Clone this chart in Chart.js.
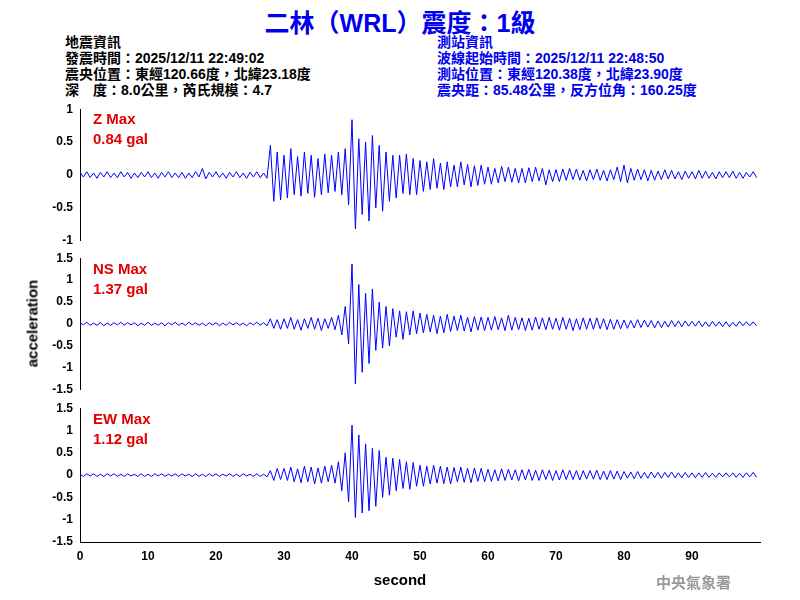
<!DOCTYPE html>
<html><head><meta charset="utf-8">
<script src="https://cdn.jsdelivr.net/npm/chart.js@4/dist/chart.umd.min.js"></script>
<style>
body{margin:0;width:800px;height:600px;background:#fff;position:relative;overflow:hidden;font-family:"Liberation Sans",Arial,sans-serif}
.t{position:absolute;white-space:nowrap}
.cjk{font-family:"Liberation Sans","Noto Sans CJK TC",sans-serif}
canvas{position:absolute;left:0}
</style></head><body>
<div class="t cjk" style="left:0;width:800px;text-align:center;top:3px;font-size:25px;font-weight:bold;color:#0000ee">二林（WRL）震度：1級</div>
<div class="t cjk" style="left:65px;top:34px;font-size:14px;line-height:16px;color:#000;font-weight:bold">地震資訊<br>發震時間：2025/12/11 22:49:02<br>震央位置：東經120.66度，北緯23.18度<br>深　度：8.0公里，芮氏規模：4.7</div>
<div class="t cjk" style="left:437px;top:34px;font-size:14px;line-height:16px;color:#0000ee;font-weight:bold">測站資訊<br>波線起始時間：2025/12/11 22:48:50<br>測站位置：東經120.38度，北緯23.90度<br>震央距：85.48公里，反方位角：160.25度</div>
<canvas id="c1" style="top:100px" width="800" height="150"></canvas>
<canvas id="c2" style="top:249px" width="800" height="150"></canvas>
<canvas id="c3" style="top:399px" width="800" height="200"></canvas>
<div class="t" style="left:93px;top:109px;font-size:15px;line-height:20px;color:#e00000;font-weight:bold">Z Max<br>0.84 gal</div>
<div class="t" style="left:93px;top:259px;font-size:15px;line-height:20px;color:#e00000;font-weight:bold">NS Max<br>1.37 gal</div>
<div class="t" style="left:93px;top:409px;font-size:15px;line-height:20px;color:#e00000;font-weight:bold">EW Max<br>1.12 gal</div>
<div class="t" style="left:-18px;top:315px;font-size:15px;font-weight:bold;transform:rotate(-90deg);width:100px;text-align:center">acceleration</div>
<div class="t" style="left:350px;top:571px;width:100px;text-align:center;font-size:15px;font-weight:bold">second</div>
<div class="t cjk" style="left:656px;top:571px;font-size:15px;font-weight:bold;color:#999">中央氣象署</div>
<script>
const zData=[0.04,-0.03,0.05,-0.04,0.03,-0.05,0.04,-0.03,0.05,-0.04,
0.03,-0.04,0.05,-0.03,0.04,-0.05,0.03,-0.04,0.04,-0.03,
0.05,-0.04,0.03,-0.05,0.04,-0.03,0.05,-0.04,0.03,-0.04,
0.04,-0.05,0.03,-0.04,0.05,-0.03,0.10,-0.06,0.04,-0.03,
0.05,-0.04,0.03,-0.05,0.04,-0.03,0.05,-0.04,0.03,-0.05,
0.04,-0.03,0.05,-0.04,0.03,-0.05,0.45,-0.4,0.35,-0.38,
0.3,-0.35,0.4,-0.3,0.28,-0.32,0.35,-0.28,0.3,-0.34,
0.25,-0.3,0.32,-0.27,0.3,-0.25,0.35,-0.3,0.4,-0.45,
0.84,-0.82,0.55,-0.6,0.5,-0.7,0.6,-0.5,0.45,-0.55,
0.35,-0.4,0.3,-0.35,0.3,-0.28,0.32,-0.3,0.25,-0.3,
0.22,-0.25,0.2,-0.22,0.25,-0.2,0.18,-0.22,0.2,-0.18,
0.15,-0.18,0.2,-0.15,0.16,-0.18,0.14,-0.16,0.15,-0.14,
0.12,-0.14,0.1,-0.12,0.13,-0.1,0.12,-0.11,0.1,-0.12,
0.1,-0.12,0.11,-0.1,0.12,-0.09,0.1,-0.15,0.08,-0.1,
0.08,-0.1,0.09,-0.08,0.1,-0.07,0.09,-0.08,0.07,-0.09,
0.08,-0.07,0.09,-0.08,0.07,-0.09,0.08,-0.07,0.12,-0.1,
0.15,-0.12,0.1,-0.08,0.09,-0.07,0.08,-0.09,0.07,-0.08,
0.06,-0.07,0.08,-0.06,0.07,-0.06,0.05,-0.07,0.06,-0.05,
0.05,-0.06,0.07,-0.05,0.06,-0.05,0.04,-0.06,0.05,-0.04,
0.05,-0.04,0.06,-0.05,0.04,-0.05,0.04,-0.03,0.05,-0.04];
const nsData=[0.03,-0.02,0.04,-0.03,0.02,-0.03,0.03,-0.04,0.02,-0.03,
0.03,-0.02,0.04,-0.03,0.03,-0.02,0.03,-0.04,0.02,-0.03,
0.04,-0.03,0.02,-0.03,0.03,-0.04,0.03,-0.02,0.04,-0.03,
0.02,-0.03,0.04,-0.02,0.03,-0.03,0.02,-0.04,0.03,-0.02,
0.03,-0.04,0.02,-0.03,0.04,-0.02,0.03,-0.03,0.02,-0.04,
0.03,-0.02,0.04,-0.03,0.03,-0.04,0.12,-0.1,0.1,-0.12,
0.12,-0.1,0.15,-0.12,0.1,-0.14,0.12,-0.1,0.15,-0.12,
0.13,-0.15,0.12,-0.1,0.15,-0.13,0.2,-0.25,0.4,-0.45,
1.37,-1.37,0.9,-1.1,0.7,-0.9,0.8,-0.6,0.5,-0.55,
0.4,-0.5,0.35,-0.3,0.3,-0.35,0.28,-0.25,0.3,-0.22,
0.25,-0.2,0.22,-0.18,0.2,-0.22,0.18,-0.2,0.22,-0.17,
0.18,-0.15,0.2,-0.16,0.15,-0.18,0.17,-0.14,0.16,-0.15,
0.15,-0.14,0.17,-0.13,0.14,-0.15,0.2,-0.14,0.15,-0.13,
0.14,-0.15,0.13,-0.14,0.16,-0.12,0.14,-0.13,0.15,-0.12,
0.13,-0.14,0.15,-0.12,0.13,-0.15,0.12,-0.13,0.14,-0.12,
0.13,-0.12,0.14,-0.11,0.12,-0.13,0.11,-0.12,0.1,-0.11,
0.09,-0.1,0.08,-0.09,0.1,-0.08,0.09,-0.07,0.08,-0.09,
0.07,-0.08,0.06,-0.07,0.08,-0.06,0.07,-0.06,0.07,-0.05,
0.06,-0.05,0.07,-0.06,0.05,-0.06,0.06,-0.05,0.05,-0.06,
0.05,-0.06,0.04,-0.05,0.06,-0.04,0.05,-0.04,0.05,-0.04];
const ewData=[0.02,-0.03,0.03,-0.02,0.03,-0.03,0.02,-0.03,0.03,-0.02,
0.03,-0.03,0.02,-0.03,0.03,-0.02,0.02,-0.03,0.03,-0.03,
0.02,-0.03,0.03,-0.02,0.03,-0.03,0.02,-0.02,0.03,-0.03,
0.03,-0.02,0.02,-0.03,0.03,-0.03,0.02,-0.03,0.03,-0.02,
0.03,-0.03,0.02,-0.02,0.03,-0.03,0.02,-0.03,0.03,-0.02,
0.02,-0.03,0.03,-0.03,0.02,-0.04,0.1,-0.12,0.15,-0.1,
0.15,-0.12,0.18,-0.15,0.14,-0.17,0.2,-0.15,0.18,-0.2,
0.16,-0.18,0.2,-0.15,0.22,-0.18,0.3,-0.35,0.5,-0.6,
1.12,-0.95,0.9,-0.85,0.7,-0.8,0.6,-0.7,0.55,-0.5,
0.4,-0.45,0.38,-0.35,0.35,-0.3,0.3,-0.32,0.28,-0.25,
0.22,-0.25,0.2,-0.2,0.22,-0.18,0.2,-0.19,0.18,-0.2,
0.17,-0.15,0.18,-0.16,0.15,-0.17,0.16,-0.14,0.15,-0.15,
0.13,-0.14,0.12,-0.13,0.14,-0.12,0.13,-0.11,0.12,-0.13,
0.12,-0.11,0.13,-0.12,0.11,-0.12,0.12,-0.1,0.11,-0.12,
0.1,-0.11,0.12,-0.1,0.11,-0.1,0.1,-0.11,0.1,-0.09,
0.1,-0.09,0.11,-0.1,0.09,-0.1,0.1,-0.09,0.09,-0.1,
0.08,-0.07,0.07,-0.08,0.08,-0.07,0.06,-0.07,0.07,-0.06,
0.06,-0.07,0.06,-0.05,0.07,-0.06,0.05,-0.06,0.06,-0.05,
0.05,-0.06,0.05,-0.05,0.06,-0.05,0.04,-0.05,0.05,-0.04,
0.05,-0.04,0.05,-0.05,0.04,-0.05,0.05,-0.04,0.06,-0.05];
const step=0.5;
const xTicks=[0,10,20,30,40,50,60,70,80,90];
function pts(a){return a.map((v,i)=>({x:i*step,y:v}));}
function make(id,data,lim,stepY,showX){
  const xs={type:'linear',min:0,max:100,display:showX,
    afterBuildTicks:s=>{s.ticks=xTicks.map(v=>({value:v}));},
    grid:{display:false,drawTicks:true,tickLength:5,color:'#000'},
    border:{color:'#000',width:1},
    ticks:{color:'#000',font:{size:12,weight:'bold',family:'Liberation Sans'},maxRotation:0,padding:2}};
  if(showX) xs.afterFit=s=>{s.height=57;};
  new Chart(document.getElementById(id),{type:'line',
    data:{datasets:[{data:pts(data),borderColor:'#0000ff',borderWidth:1,pointRadius:0,tension:0}]},
    options:{responsive:false,animation:false,
      layout:{padding:{top:8,right:40,bottom:showX?0:7,left:0}},
      plugins:{legend:{display:false},tooltip:{enabled:false}},
      scales:{
        x:xs,
        y:{min:-lim,max:lim,
          afterFit:s=>{s.width=80;},
          grid:{display:false,drawTicks:true,tickLength:5},
          border:{color:'#000',width:1},
          ticks:{stepSize:stepY,color:'#000',font:{size:12,weight:'bold',family:'Liberation Sans'},padding:2,
            callback:v=>String(Math.round(v*10)/10)}}
      }}});
}
make('c1',zData,1,0.5,false);
make('c2',nsData,1.5,0.5,false);
make('c3',ewData,1.5,0.5,true);
</script></body></html>
